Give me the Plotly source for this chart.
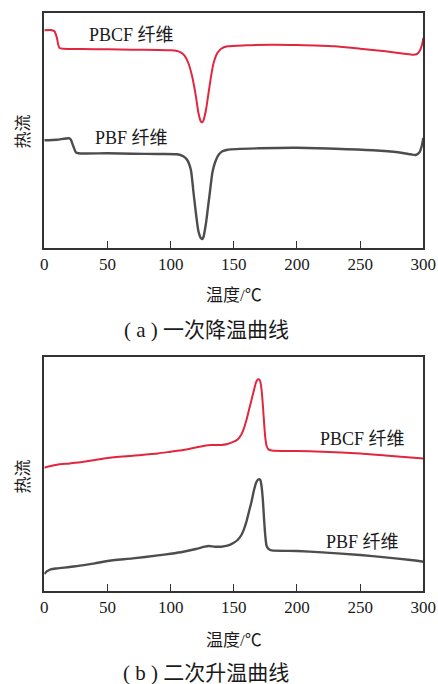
import plotly.graph_objects as go

# ---- data (arbitrary heat-flow units) ----
# (a) first cooling
a_pbcf_x = [0, 5, 8, 10, 11, 12, 15, 30, 50, 70, 90, 100, 105, 108, 111, 114, 117, 120, 122, 124, 125, 126,
            128, 130, 132, 134, 137, 140, 145, 160, 180, 200, 230, 250, 270, 285, 292, 295, 297, 299, 300]
a_pbcf_y = [217.7, 218.0, 216.7, 210.0, 203.3, 200.0, 199.3, 199.0, 198.7, 198.3, 198.0, 197.7, 197.0, 195.7,
            192.3, 185.0, 171.7, 151.7, 135.0, 126.3, 125.7, 127.7, 138.3, 155.0, 171.7, 185.0, 195.0, 199.3,
            201.7, 202.7, 203.3, 203.0, 201.7, 199.3, 196.7, 194.3, 193.3, 194.0, 196.7, 203.3, 210.0]
a_pbf_x = [0, 10, 20, 21, 23, 25, 27, 50, 70, 90, 105, 110, 113, 116, 118, 120, 122, 124, 125, 126, 128, 130,
           131, 133, 135, 138, 141, 145, 170, 200, 230, 260, 280, 290, 294, 297, 299, 300]
a_pbf_y = [107.7, 108.3, 109.7, 108.3, 101.7, 95.7, 94.7, 94.7, 94.3, 94.0, 93.7, 91.7, 88.3, 78.3, 56.7, 35.0,
           16.7, 9.7, 9.0, 11.0, 25.0, 45.0, 55.0, 75.0, 85.0, 93.3, 96.7, 98.3, 99.7, 100.3, 99.3, 97.7, 95.7,
           93.7, 93.0, 95.7, 103.3, 110.0]

# (b) second heating
b_pbcf_x = [0, 5, 10, 20, 30, 40, 50, 70, 90, 100, 110, 120, 128, 132, 140, 145, 150, 153, 156, 158, 160, 162,
            164, 166, 167.5, 169, 170, 171, 172, 173, 174, 175, 176, 177.5, 180, 200, 220, 250, 270, 290, 300]
b_pbcf_y = [123.0, 124.7, 126.0, 127.3, 128.7, 130.7, 132.7, 135.0, 137.3, 139.0, 140.7, 143.3, 145.3, 145.7,
            145.7, 146.7, 149.0, 151.3, 156.3, 162.3, 170.7, 180.7, 190.7, 200.7, 208.0, 211.3, 211.3, 209.0,
            200.7, 185.7, 167.3, 152.3, 144.7, 141.3, 140.3, 139.7, 139.0, 137.3, 135.3, 133.3, 132.3]
b_pbf_x = [0, 2, 5, 10, 20, 30, 40, 50, 70, 90, 100, 110, 120, 127, 130, 135, 140, 145, 150, 153, 156, 158, 160,
           162, 164, 166, 168, 169.5, 171, 172, 173, 174, 175, 176, 178, 180, 200, 220, 250, 270, 290, 300]
b_pbf_y = [16.7, 19.3, 21.3, 22.3, 23.7, 25.3, 27.3, 29.7, 32.3, 35.3, 37.0, 39.0, 41.7, 44.0, 44.7, 44.0, 44.0,
           45.0, 48.0, 50.7, 55.7, 61.3, 69.0, 79.0, 89.0, 100.7, 109.0, 111.3, 110.7, 104.0, 90.7, 70.7, 54.0,
           44.7, 41.3, 40.3, 39.7, 38.3, 35.7, 33.3, 30.7, 29.0]

x_ticks = [0, 50, 100, 150, 200, 250, 300]
series_names = ["PBCF 纤维", "PBF 纤维"]
x_title = "温度/℃"
y_title = "热流"
captions = ["( a ) 一次降温曲线", "( b ) 二次升温曲线"]

RED = "#e2263f"
GRAY = "#4d4d4d"
FONT = "Liberation Serif, Noto Sans CJK SC, serif"
TXT = "#1a1a1a"
W, H = 438, 684

fig = go.Figure()
fig.add_trace(go.Scatter(x=a_pbcf_x, y=a_pbcf_y, mode="lines", line=dict(color=RED, width=2, shape="spline", smoothing=0.6),
                         xaxis="x", yaxis="y", showlegend=False))
fig.add_trace(go.Scatter(x=a_pbf_x, y=a_pbf_y, mode="lines", line=dict(color=GRAY, width=2.4, shape="spline", smoothing=0.6),
                         xaxis="x", yaxis="y", showlegend=False))
fig.add_trace(go.Scatter(x=b_pbcf_x, y=b_pbcf_y, mode="lines", line=dict(color=RED, width=2, shape="spline", smoothing=0.6),
                         xaxis="x2", yaxis="y2", showlegend=False))
fig.add_trace(go.Scatter(x=b_pbf_x, y=b_pbf_y, mode="lines", line=dict(color=GRAY, width=2.4, shape="spline", smoothing=0.6),
                         xaxis="x2", yaxis="y2", showlegend=False))

xa = dict(range=[0, 300], tickvals=x_ticks, ticktext=[str(v) for v in x_ticks], ticks="inside", ticklen=7,
          tickwidth=1.3, tickcolor="#333", showline=True, linecolor="#333", linewidth=1.5, mirror=True,
          showgrid=False, zeroline=False, tickfont=dict(family=FONT, size=17, color=TXT),
          domain=[44.3 / W, 423.3 / W], automargin=False)
ya = dict(showticklabels=False, ticks="", showline=True, linecolor="#333", linewidth=1.5, mirror=True,
          showgrid=False, zeroline=False, automargin=False)

fig.update_layout(
    width=W, height=H, margin=dict(l=0, r=0, t=0, b=0, autoexpand=False),
    paper_bgcolor="white", plot_bgcolor="white",
    xaxis=dict(xa, anchor="y"),
    yaxis=dict(ya, range=[0, 235], domain=[(H - 248) / H, (H - 13) / H], anchor="x"),
    xaxis2=dict(xa, anchor="y2"),
    yaxis2=dict(ya, range=[0, 234], domain=[(H - 590.7) / H, (H - 356.7) / H], anchor="x2"),
)

ann = []
lab = dict(family=FONT, size=18, color=TXT)
ann.append(dict(x=69.4, y=213.3, xref="x", yref="y", text=series_names[0], showarrow=False, font=lab))
ann.append(dict(x=69.4, y=110.0, xref="x", yref="y", text=series_names[1], showarrow=False, font=lab))
ann.append(dict(x=252, y=151.7, xref="x2", yref="y2", text=series_names[0], showarrow=False, font=lab))
ann.append(dict(x=251.6, y=49.0, xref="x2", yref="y2", text=series_names[1], showarrow=False, font=lab))
t17 = dict(family=FONT, size=17, color=TXT)
for yc in (295, 640):
    ann.append(dict(x=233.8 / W, y=(H - yc) / H, xref="paper", yref="paper", text=x_title, showarrow=False,
                    font=t17, xanchor="center", yanchor="middle"))
for yc in (132, 477):
    ann.append(dict(x=22.5 / W, y=(H - yc) / H, xref="paper", yref="paper", text=y_title, showarrow=False,
                    font=t17, textangle=-90, xanchor="center", yanchor="middle"))
for cap, yc in zip(captions, (330, 673)):
    ann.append(dict(x=206 / W, y=(H - yc) / H, xref="paper", yref="paper", text=cap, showarrow=False,
                    font=dict(family=FONT, size=21, color=TXT), xanchor="center", yanchor="middle"))
fig.update_layout(annotations=ann)

fig.write_html("out.html", config={"displayModeBar": False},
               post_script="document.body.style.margin='0';document.body.style.overflow='hidden';")
